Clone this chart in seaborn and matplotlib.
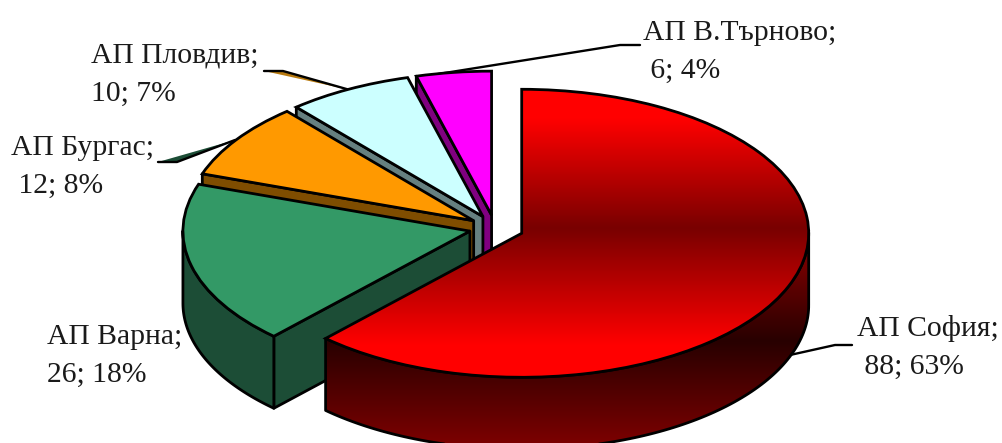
import numpy as np
import matplotlib
matplotlib.use("Agg")
import matplotlib.pyplot as plt
from matplotlib.patches import Polygon
import seaborn as sns

# chart data
airports = ["АП София", "АП Варна", "АП Бургас", "АП Пловдив", "АП В.Търново"]
counts = [88, 26, 12, 10, 6]
percents = [63, 18, 8, 7, 4]

# styling
top_colors = ["#ff0000", "#339966", "#ff9900", "#ccffff", "#ff00ff"]
side_colors = ["#800000", "#1c4d36", "#7f4d00", "#668080", "#800080"]
explode = [0.10, 0.09, 0.09, 0.09, 0.09]
label_pad = [" ", "", " ", "", " "]
label_pos = [(857, 374), (47, 382), (11, 193), (91, 101), (643, 78)]
leaders = [
    [(790, 355), (835, 345), (852, 345)],
    None,
    [(235, 140), (177, 162), (158, 162)],
    [(350, 90), (283, 71), (264, 71)],
    [(432, 75), (620, 45), (640, 45)],
]
sliver_colors = {2: "#1c4d36", 3: "#b87a10"}

W, H = 1002, 443
CX, CY = 495, 228     # pie centre in pixels
RX, RY = 287, 144     # pixels per data unit
DEPTH = 0.5
LW = 2.0


def px(x, y):
    return (x - CX) / RX, (CY - y) / RY


sns.set_style("white")
fig = plt.figure(figsize=(W / 100, H / 100), dpi=100)
ax = fig.add_axes([0, 0, 1, 1])

wedges, _ = ax.pie(counts, explode=explode, colors=top_colors, startangle=90,
                   counterclock=False,
                   wedgeprops={"edgecolor": "black", "linewidth": LW})
xlim = (px(0, 0)[0], px(W, 0)[0])
ylim = (px(0, H)[1], px(0, 0)[1])

top_cmap = sns.blend_palette(["#ff0000", "#780000", "#ff0000"], n_colors=256, as_cmap=True)
side_cmap = sns.blend_palette(["#900000", "#280000", "#800000"], n_colors=256, as_cmap=True)
ramp = np.linspace(0, 1, 256).reshape(-1, 1)
# top face stays full red near the rims, darkest just above the apex
top_ramp = np.interp(np.arange(89, 378), [118, 228, 345], [0, 0.5, 1]).reshape(-1, 1)


def draw_face(pts, color, z, gradient=False, y0=0):
    poly_pts = np.vstack([pts, (pts - [0, DEPTH])[::-1]])
    poly = Polygon(poly_pts, closed=True, facecolor=color, edgecolor="black",
                   linewidth=LW, zorder=z, joinstyle="round")
    ax.add_patch(poly)
    if gradient:
        poly.set_facecolor("none")
        poly.set_zorder(z + 0.2)
        im = ax.imshow(ramp, cmap=side_cmap, aspect="auto", origin="upper", zorder=z,
                       extent=[xlim[0], xlim[1], y0 - 1 - DEPTH, y0])
        im.set_clip_path(poly)


for i, w in enumerate(wedges):
    z = (len(wedges) - i) * 10
    x0, y0 = w.center
    angles = np.radians(np.linspace(w.theta2, w.theta1, 200))
    arc = np.column_stack([x0 + w.r * np.cos(angles), y0 + w.r * np.sin(angles)])
    apex = np.array([x0, y0])
    is_red = i == 0

    # only the faces that turn towards the viewer are drawn
    if arc[0, 0] < x0 - 1e-6:
        draw_face(np.array([apex, arc[0]]), side_colors[i], z, is_red, y0)
    down = np.diff(arc[:, 0]) < 0
    if down.any():
        idx = np.where(down)[0]
        draw_face(arc[idx[0]:idx[-1] + 2], side_colors[i], z + 1, is_red, y0)
    if arc[-1, 0] > x0 + 1e-6:
        draw_face(np.array([arc[-1], apex]), side_colors[i], z, is_red, y0)

    w.set_zorder(z + 3)
    if is_red:
        w.set_facecolor("none")
        w.set_zorder(z + 4)
        im = ax.imshow(top_ramp, cmap=top_cmap, vmin=0, vmax=1, aspect="auto",
                       origin="upper", zorder=z + 3,
                       extent=[xlim[0], xlim[1], y0 - 1, y0 + 1])
        im.set_clip_path(w)

# leader lines
for i, line in enumerate(leaders):
    if line is None:
        continue
    pts = np.array([px(*p) for p in line])
    if i in sliver_colors:
        ax.fill(pts[:, 0], pts[:, 1], color=sliver_colors[i], lw=0, zorder=1)
    ax.plot(pts[:, 0], pts[:, 1], color="black", lw=LW - 0.3, zorder=2,
            solid_joinstyle="round")

# labels
for name, c, p, pad, pos in zip(airports, counts, percents, label_pad, label_pos):
    tx, ty = px(*pos)
    ax.text(tx, ty, f"{name};\n{pad}{c}; {p}%", fontsize=21.3, color="#1a1a1a",
            family="Liberation Serif", ha="left", va="baseline", linespacing=1.6,
            zorder=200)

ax.set_xlim(xlim)
ax.set_ylim(ylim)
ax.set_axis_off()
fig.savefig("out.png", dpi=100, facecolor="white")
